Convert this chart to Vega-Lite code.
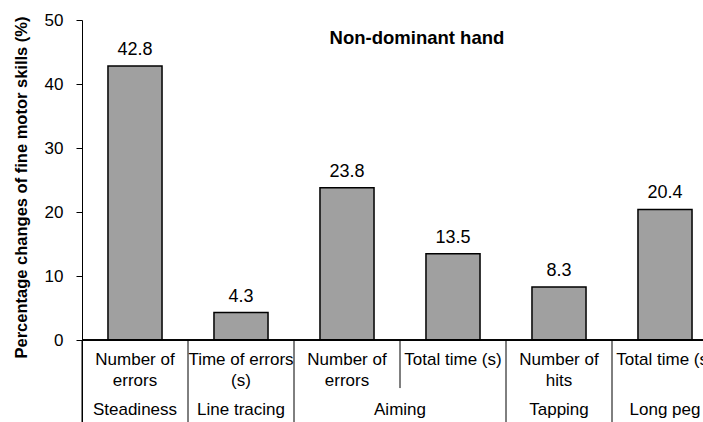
{
  "$schema": "https://vega.github.io/schema/vega-lite/v6.json",
  "width": 621,
  "height": 402,
  "autosize": {"type": "none"},
  "padding": {"left": 82, "top": 20, "right": 0, "bottom": 0},
  "background": "white",
  "config": {"view": {"stroke": null}, "font": "Liberation Sans"},
  "datasets": {
    "bars": [
      {"key": "Steadiness|Number of errors", "group": "Steadiness", "measure": "Number of\nerrors", "value": 42.8, "first": true},
      {"key": "Line tracing|Time of errors (s)", "group": "Line tracing", "measure": "Time of errors\n(s)", "value": 4.3, "first": true},
      {"key": "Aiming|Number of errors", "group": "Aiming", "measure": "Number of\nerrors", "value": 23.8, "first": true},
      {"key": "Aiming|Total time (s)", "group": "Aiming", "measure": "Total time (s)", "value": 13.5, "first": false},
      {"key": "Tapping|Number of hits", "group": "Tapping", "measure": "Number of\nhits", "value": 8.3, "first": true},
      {"key": "Long peg|Total time (s)", "group": "Long peg", "measure": "Total time (s)", "value": 20.4, "first": true}
    ],
    "heading": [
      {"key": "Aiming|Number of errors", "label": "Non-dominant hand"}
    ]
  },
  "data": {"name": "bars"},
  "layer": [
    {
      "mark": {"type": "bar", "width": {"band": 0.51}, "fill": "#a0a0a0", "stroke": "#000", "strokeWidth": 1.5},
      "encoding": {
        "x": {"field": "key", "type": "nominal", "sort": null, "scale": {"range": [0, 636], "paddingInner": 0, "paddingOuter": 0}, "axis": null},
        "y": {"field": "value", "type": "quantitative", "scale": {"domain": [-12.8, 50], "nice": false, "zero": false},
          "axis": {"values": [0, 10, 20, 30, 40, 50], "grid": false, "title": "Percentage changes of fine motor skills (%)",
            "titleFont": "Liberation Sans", "titleFontSize": 16.5, "titleFontWeight": "bold", "titleColor": "#000",
            "titleX": -61, "titleY": 167, "titleAngle": 270, "titleBaseline": "middle", "titleAlign": "center",
            "labelFont": "Liberation Sans", "labelFontSize": 17, "labelColor": "#000", "labelPadding": 13,
            "tickSize": 6, "tickColor": "#000", "domainColor": "#000"}}
      }
    },
    {
      "mark": {"type": "text", "baseline": "alphabetic", "dy": -11, "fontSize": 18, "color": "#000"},
      "encoding": {
        "x": {"field": "key", "type": "nominal", "sort": null},
        "y": {"field": "value", "type": "quantitative"},
        "text": {"field": "value", "type": "quantitative", "format": ".1f"}
      }
    },
    {
      "mark": {"type": "rule", "color": "#000", "strokeWidth": 1},
      "encoding": {"y": {"datum": 0}}
    },
    {
      "transform": [{"filter": "datum.first"}],
      "mark": {"type": "rule", "color": "#000", "strokeWidth": 1},
      "encoding": {
        "x": {"field": "key", "type": "nominal", "sort": null, "bandPosition": 0},
        "y": {"datum": 0},
        "y2": {"datum": -12.8}
      }
    },
    {
      "transform": [{"filter": "!datum.first"}],
      "mark": {"type": "rule", "color": "#000", "strokeWidth": 1},
      "encoding": {
        "x": {"field": "key", "type": "nominal", "sort": null, "bandPosition": 0},
        "y": {"datum": 0},
        "y2": {"datum": -7.5}
      }
    },
    {
      "mark": {"type": "text", "baseline": "alphabetic", "lineBreak": "\n", "lineHeight": 21, "fontSize": 17, "color": "#000"},
      "encoding": {
        "x": {"field": "key", "type": "nominal", "sort": null},
        "y": {"datum": -3.9},
        "text": {"field": "measure"}
      }
    },
    {
      "transform": [{"filter": "datum.group != 'Aiming'"}],
      "mark": {"type": "text", "baseline": "alphabetic", "fontSize": 17, "color": "#000"},
      "encoding": {
        "x": {"field": "key", "type": "nominal", "sort": null},
        "y": {"datum": -11.7},
        "text": {"field": "group"}
      }
    },
    {
      "transform": [{"filter": "datum.group == 'Aiming' && datum.first"}],
      "mark": {"type": "text", "baseline": "alphabetic", "fontSize": 17, "color": "#000"},
      "encoding": {
        "x": {"field": "key", "type": "nominal", "sort": null, "bandPosition": 1},
        "y": {"datum": -11.7},
        "text": {"field": "group"}
      }
    },
    {
      "data": {"name": "heading"},
      "mark": {"type": "text", "baseline": "alphabetic", "fontSize": 18.5, "fontWeight": "bold", "color": "#000"},
      "encoding": {
        "x": {"field": "key", "type": "nominal", "sort": null, "bandPosition": 1.16},
        "y": {"datum": 46.3},
        "text": {"field": "label"}
      }
    }
  ]
}
